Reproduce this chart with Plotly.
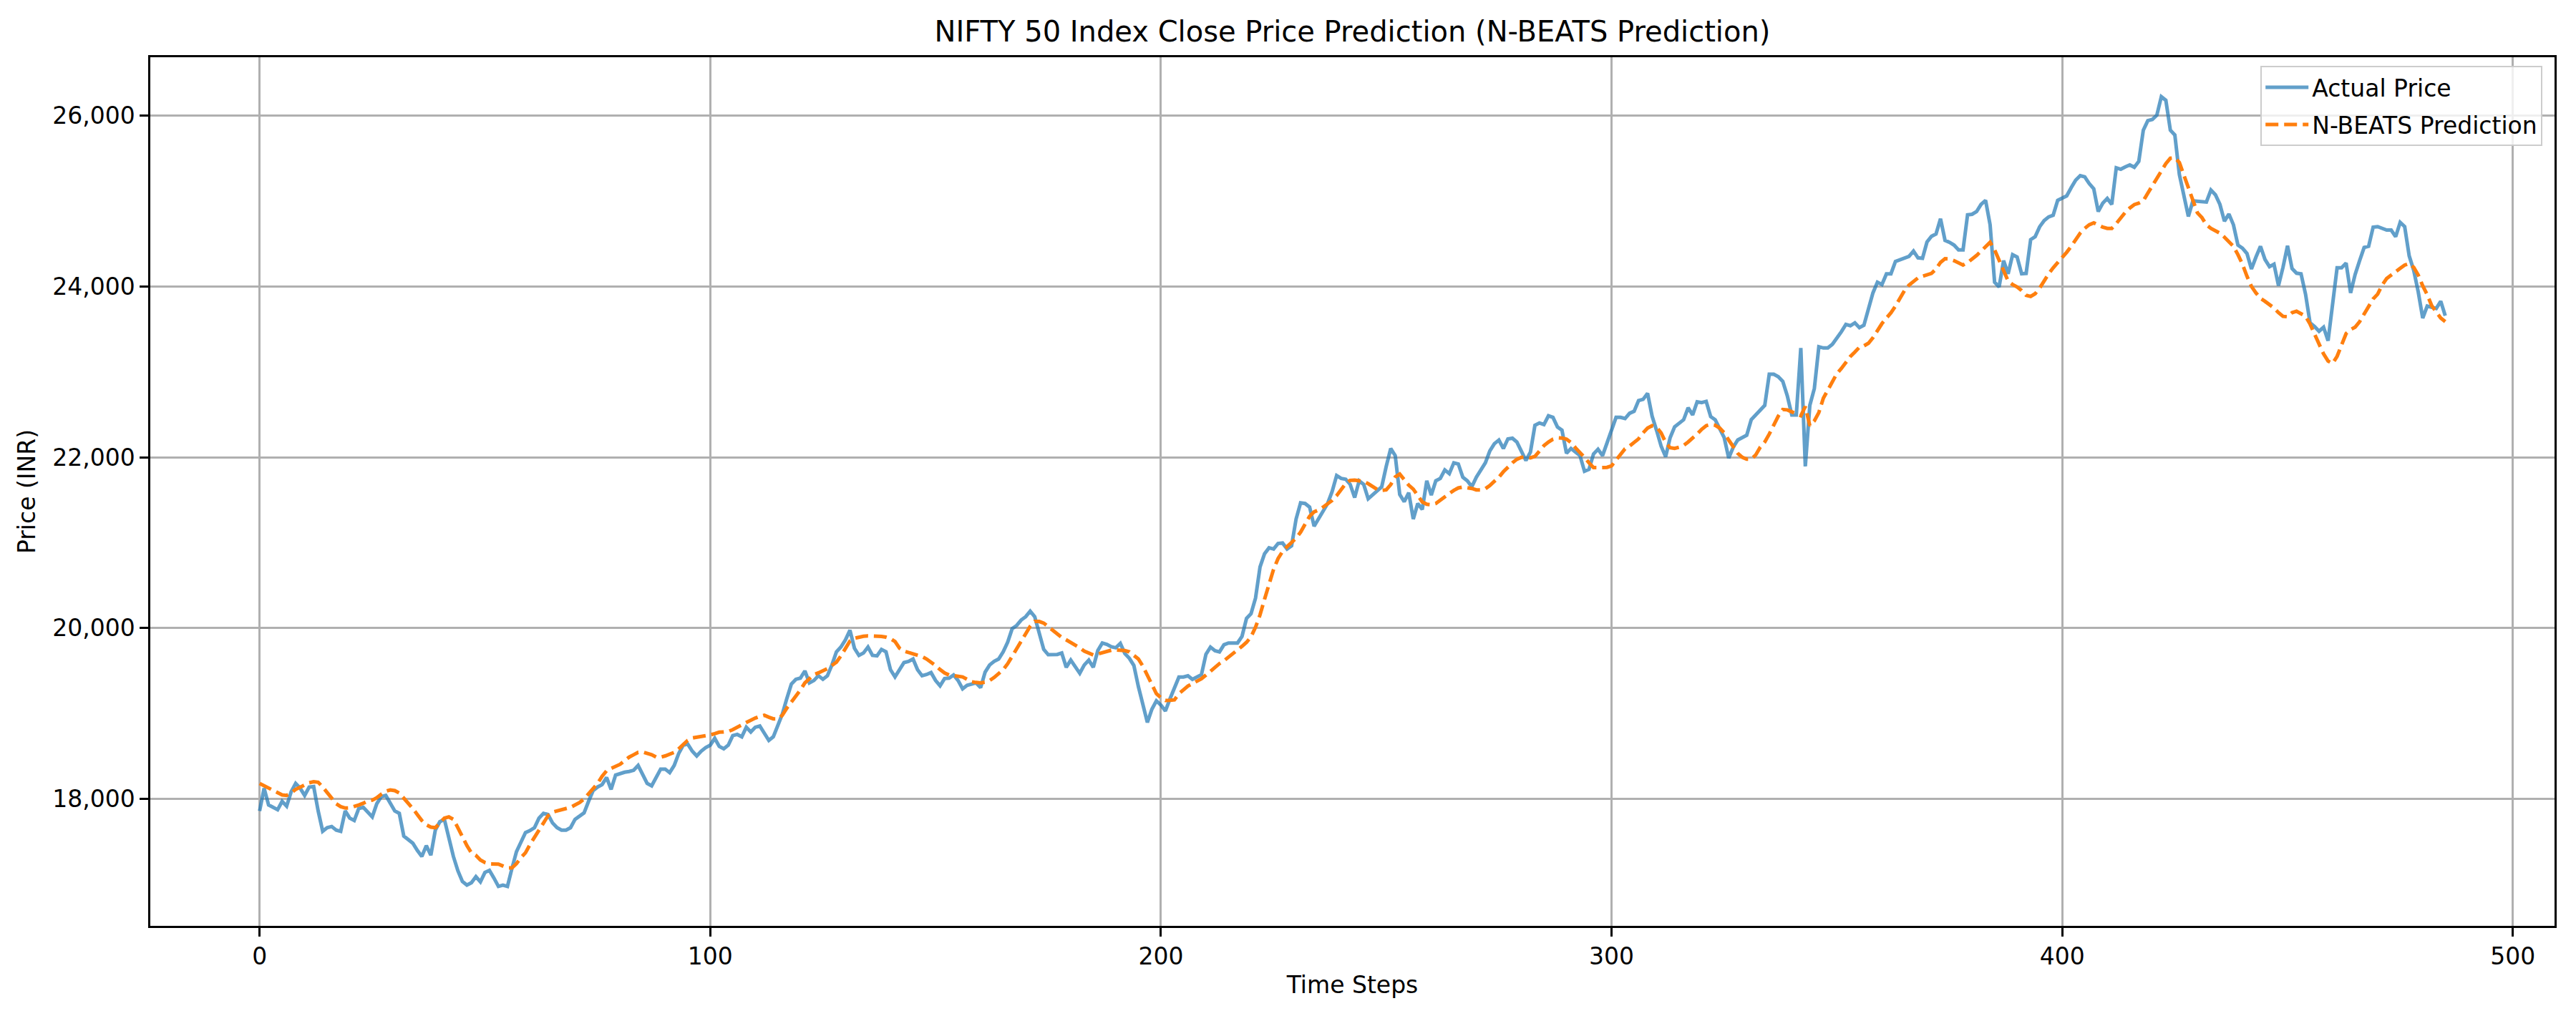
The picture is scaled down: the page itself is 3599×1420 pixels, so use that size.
import plotly.graph_objects as go
import numpy as np

title_text = "NIFTY 50 Index Close Price Prediction (N-BEATS Prediction)"
x_label = "Time Steps"
y_label = "Price (INR)"
series_names = ["Actual Price", "N-BEATS Prediction"]
x_tick_vals = [0, 100, 200, 300, 400, 500]
y_tick_vals = [18000, 20000, 22000, 24000, 26000]

actual_price = [
    17860, 18126, 17930, 17902, 17874, 17972, 17916, 18084, 18182, 18126,
    18042, 18140, 18146, 17860, 17622, 17664, 17678, 17636, 17622, 17860,
    17776, 17748, 17888, 17902, 17846, 17790, 17944, 18028, 18042, 17944,
    17860, 17832, 17566, 17524, 17482, 17398, 17328, 17454, 17342, 17636,
    17734, 17762, 17524, 17328, 17160, 17034, 16992, 17020, 17090, 17030,
    17140, 17165, 17075, 16977, 16991, 16977, 17187, 17383, 17495, 17607,
    17630, 17664, 17776, 17832, 17818, 17720, 17664, 17636, 17636, 17664,
    17762, 17804, 17837, 17972, 18098, 18140, 18168, 18252, 18112, 18280,
    18302, 18313, 18322, 18336, 18392, 18280, 18182, 18154, 18252, 18350,
    18350, 18308, 18392, 18532, 18630, 18644, 18560, 18504, 18560, 18602,
    18630, 18710, 18616, 18588, 18630, 18742, 18756, 18728, 18840, 18784,
    18840, 18854, 18770, 18686, 18728, 18854, 18994, 19177, 19345, 19401,
    19415, 19499, 19359, 19387, 19443, 19401, 19443, 19569, 19723, 19779,
    19863, 19975, 19765, 19681, 19709, 19779, 19681, 19675, 19751, 19723,
    19513, 19429, 19513, 19597, 19611, 19639, 19513, 19443, 19457, 19480,
    19387, 19325, 19410, 19415, 19451, 19387, 19289, 19331, 19345, 19359,
    19303, 19485, 19569, 19611, 19639, 19723, 19835, 19994, 20031, 20095,
    20134, 20199, 20134, 19947, 19751, 19689, 19686, 19692, 19709, 19541,
    19625, 19541, 19471, 19569, 19625, 19541, 19737, 19826, 19810, 19782,
    19770, 19821, 19703, 19647, 19563, 19317, 19121, 18896, 19051, 19149,
    19100, 19030, 19170, 19300, 19428, 19428, 19442, 19400, 19428, 19456,
    19694, 19778, 19736, 19722, 19806, 19826, 19826, 19826, 19904, 20114,
    20170, 20352, 20716, 20870, 20940, 20926, 20991, 20996, 20926, 20963,
    21277, 21467, 21459, 21417, 21193, 21277, 21375, 21459, 21599, 21786,
    21753, 21744, 21683, 21529, 21725, 21683, 21515, 21562, 21613, 21655,
    21893, 22103, 22020, 21565, 21480, 21585, 21277, 21459, 21389, 21725,
    21557, 21725, 21753, 21851, 21809, 21935, 21921, 21767, 21725, 21655,
    21767, 21851, 21935, 22075, 22159, 22201, 22103, 22215, 22223, 22178,
    22061, 21963, 22061, 22374, 22402, 22383, 22486, 22467, 22355, 22318,
    22047, 22103, 22061, 22019, 21837, 21859, 22038, 22094, 22019, 22173,
    22330, 22467, 22467, 22453, 22515, 22538, 22664, 22678, 22748, 22482,
    22314, 22132, 22006, 22230, 22356, 22398, 22440, 22580, 22496, 22650,
    22641, 22655, 22476, 22440, 22342, 22230, 21991, 22118, 22202, 22235,
    22258, 22440, 22496, 22552, 22608, 22972, 22972, 22944, 22888, 22720,
    22496, 22496, 23280, 21893, 22608, 22804, 23294, 23280, 23280, 23322,
    23392, 23470, 23555, 23540, 23574, 23518, 23546, 23727, 23924, 24050,
    24022, 24148, 24148, 24293, 24316, 24330, 24352, 24414, 24335, 24330,
    24520, 24587, 24615, 24792, 24540, 24517, 24484, 24428, 24428, 24839,
    24845, 24876, 24960, 25008, 24722, 24050, 23994, 24302, 24148, 24372,
    24344, 24148, 24153, 24548, 24582, 24699, 24772, 24814, 24834, 25008,
    25040, 25060, 25157, 25245, 25297, 25283, 25204, 25143, 24877, 24975,
    25030, 24961, 25389, 25372, 25400, 25423, 25395, 25465, 25829, 25941,
    25955, 26005, 26221, 26179, 25829, 25773, 25311, 25059, 24820, 25002,
    24997, 24988, 24988, 25129, 25073, 24960, 24764, 24848, 24722, 24484,
    24448, 24386, 24204, 24344, 24470, 24316, 24232, 24260, 24010, 24225,
    24477, 24210, 24155, 24148, 23910, 23574, 23532, 23476, 23523, 23364,
    23826, 24218, 24218, 24274, 23924, 24140, 24302, 24456, 24470, 24694,
    24700, 24680, 24660, 24660, 24582, 24750, 24700, 24358, 24190, 23938,
    23630, 23770, 23756, 23742, 23826, 23658,
]

nbeats_prediction = [
    18182, 18154, 18126, 18098, 18070, 18048, 18042, 18070, 18112, 18140,
    18168, 18190, 18202, 18196, 18140, 18070, 18000, 17944, 17910, 17894,
    17896, 17908, 17930, 17950, 17977, 17986, 18014, 18056, 18090, 18106,
    18098, 18070, 18014, 17944, 17888, 17818, 17748, 17697, 17670, 17664,
    17720, 17776, 17790, 17762, 17664, 17552, 17454, 17370, 17340, 17285,
    17256, 17240, 17243, 17238, 17215, 17193, 17193, 17243, 17313, 17370,
    17467, 17552, 17636, 17720, 17804, 17846, 17860, 17874, 17888, 17902,
    17930, 17958, 18000, 18056, 18112, 18182, 18266, 18330, 18358, 18378,
    18406, 18448, 18490, 18518, 18546, 18551, 18537, 18518, 18490, 18490,
    18504, 18526, 18546, 18588, 18644, 18686, 18714, 18722, 18728, 18734,
    18750, 18765, 18782, 18784, 18790, 18812, 18835, 18868, 18896, 18924,
    18947, 18966, 18980, 18958, 18938, 18938, 18980, 19064, 19135, 19191,
    19275, 19359, 19415, 19457, 19476, 19499, 19527, 19563, 19602, 19675,
    19765, 19849, 19882, 19896, 19905, 19910, 19910, 19908, 19902, 19894,
    19877, 19843, 19765, 19731, 19717, 19703, 19686, 19667, 19639, 19605,
    19562, 19515, 19475, 19451, 19443, 19437, 19429, 19401, 19373, 19364,
    19359, 19367, 19387, 19423, 19471, 19513, 19583, 19675, 19765, 19854,
    19947, 20022, 20078, 20078, 20059, 20017, 19975, 19927, 19891, 19863,
    19835, 19807, 19770, 19731, 19703, 19686, 19698, 19714, 19731, 19742,
    19745, 19742, 19737, 19723, 19686, 19639, 19555, 19443, 19331, 19233,
    19186, 19153, 19155, 19160, 19232, 19282, 19322, 19350, 19378, 19408,
    19450, 19498, 19546, 19585, 19619, 19658, 19702, 19742, 19787, 19834,
    19899, 20011, 20156, 20338, 20520, 20688, 20814, 20898, 20954, 21002,
    21053, 21123, 21207, 21310, 21361, 21383, 21417, 21450, 21495, 21551,
    21627, 21691, 21730, 21733, 21725, 21716, 21691, 21652, 21624, 21613,
    21618, 21680, 21770, 21803, 21739, 21674, 21627, 21543, 21478, 21450,
    21445, 21459, 21501, 21543, 21576, 21613, 21641, 21652, 21646, 21635,
    21618, 21618, 21632, 21669, 21719, 21767, 21831, 21887, 21935, 21977,
    21999, 22005, 21994, 22010, 22075, 22136, 22178, 22212, 22229, 22226,
    22212, 22173, 22111, 22061, 21999, 21935, 21879, 21879, 21879, 21882,
    21900, 21970, 22037, 22100, 22132, 22174, 22216, 22286, 22342, 22370,
    22353, 22286, 22174, 22112, 22104, 22118, 22140, 22179, 22224, 22272,
    22328, 22370, 22384, 22375, 22342, 22286, 22202, 22118, 22047, 22000,
    21977, 21977, 22028, 22118, 22179, 22272, 22384, 22482, 22560, 22555,
    22532, 22510, 22487, 22594, 22370, 22426, 22524, 22692, 22790, 22888,
    22980, 23040, 23110, 23180, 23232, 23288, 23304, 23335, 23400, 23484,
    23565, 23630, 23691, 23770, 23868, 23952, 24016, 24064, 24100, 24120,
    24139, 24153, 24204, 24282, 24324, 24321, 24302, 24279, 24251, 24279,
    24316, 24363, 24414, 24464, 24517, 24428, 24302, 24176, 24064, 24022,
    23994, 23952, 23896, 23882, 23915, 23980, 24069, 24148, 24218, 24274,
    24340, 24400, 24470, 24545, 24624, 24680, 24722, 24745, 24717, 24694,
    24680, 24680, 24736, 24806, 24868, 24918, 24958, 24975, 25002, 25092,
    25176, 25269, 25353, 25437, 25501, 25507, 25451, 25311, 25143, 25002,
    24862, 24806, 24722, 24680, 24652, 24624, 24577, 24526, 24470, 24372,
    24260, 24120, 24000, 23924, 23860, 23826, 23792, 23748, 23693, 23650,
    23645, 23693, 23710, 23680, 23652, 23560, 23448, 23336, 23210, 23126,
    23098, 23182, 23307, 23448, 23495, 23523, 23588, 23680, 23770, 23854,
    23910, 24016, 24092, 24128, 24167, 24212, 24251, 24268, 24223, 24134,
    24008, 23904, 23775, 23708, 23630, 23588,
]

time_steps = list(range(len(actual_price)))

fig = go.Figure()
fig.add_trace(go.Scatter(
    x=time_steps, y=actual_price, mode="lines", name=series_names[0],
    legendgroup="a",
    line=dict(color="#1f77b4", width=5), opacity=0.7,
))
fig.add_trace(go.Scatter(
    x=list(range(len(nbeats_prediction))), y=nbeats_prediction, mode="lines",
    name=series_names[1], legendgroup="b",
    line=dict(color="#ff7f0e", width=5, dash="18px,8px"),
))

n = len(actual_price)
xpad = 0.05 * (n - 1)
allv = np.array(actual_price + nbeats_prediction)
ypad = 0.05 * (allv.max() - allv.min())

font_family = "DejaVu Sans, Liberation Sans, sans-serif"
fig.update_layout(
    width=3599, height=1420,
    paper_bgcolor="white", plot_bgcolor="white",
    margin=dict(l=210, r=30, t=80, b=126, autoexpand=False),
    font=dict(family=font_family, size=33, color="black"),
    title=dict(text=title_text, x=0.5 * (210 + 3569) / 3599, xanchor="center",
               y=1 - 44 / 1420, yanchor="middle",
               font=dict(size=40, color="black")),
    showlegend=True,
    legend=dict(x=0.995, y=0.99, xanchor="right", yanchor="top",
                bgcolor="rgba(255,255,255,0.8)", bordercolor="#cccccc", borderwidth=2,
                font=dict(size=33), itemwidth=60, tracegroupgap=6),
)
fig.update_xaxes(
    range=[-xpad, n - 1 + xpad], tickvals=x_tick_vals, automargin=False,
    showgrid=True, gridcolor="#b0b0b0", gridwidth=2.5,
    showline=True, linecolor="black", linewidth=2.5, mirror=True,
    ticks="outside", ticklen=12, tickwidth=2.5, tickcolor="black",
    tickfont=dict(size=33), zeroline=False,
    title=dict(text=x_label, font=dict(size=33), standoff=10),
)
fig.update_yaxes(
    range=[allv.min() - ypad, allv.max() + ypad], tickvals=y_tick_vals,
    tickformat=",d", automargin=False,
    showgrid=True, gridcolor="#b0b0b0", gridwidth=2.5,
    showline=True, linecolor="black", linewidth=2.5, mirror=True,
    ticks="outside", ticklen=12, tickwidth=2.5, tickcolor="black",
    tickfont=dict(size=33), zeroline=False,
    title=dict(text=y_label, font=dict(size=33), standoff=14),
)

fig.write_html("out.html", config={"displayModeBar": False},
               post_script="document.body.style.margin='0';")
